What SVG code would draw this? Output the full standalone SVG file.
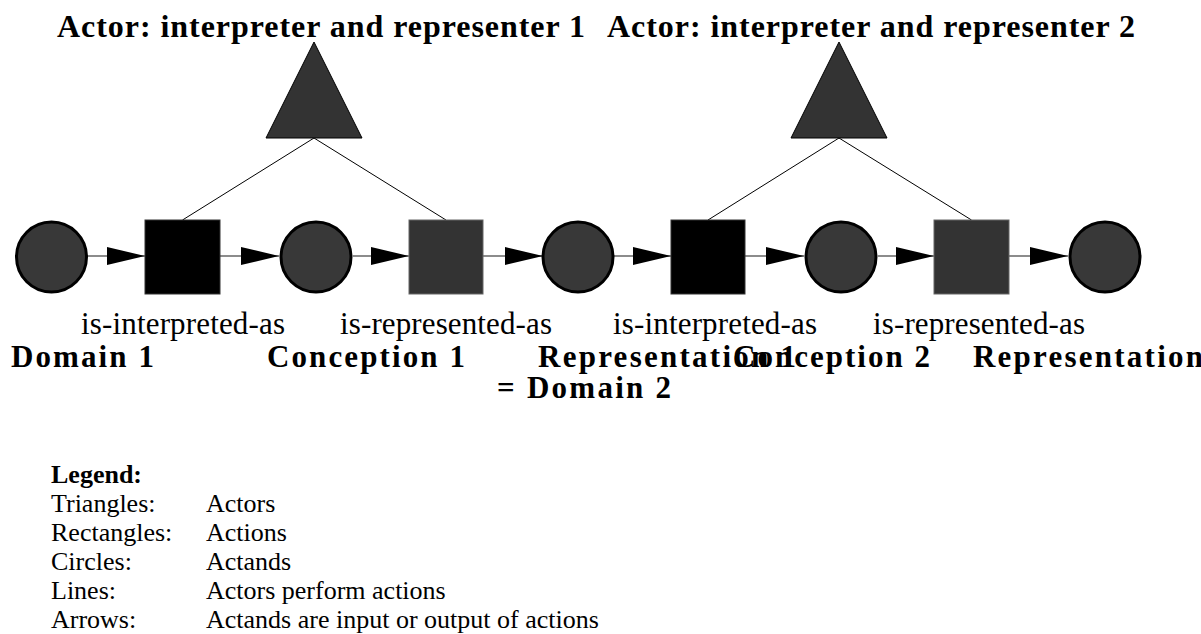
<svg xmlns="http://www.w3.org/2000/svg" width="1201" height="634" viewBox="0 0 1201 634">
<style>
  .title { font-family: "Liberation Serif", "Times New Roman", serif; font-weight: bold; font-size: 32px; fill: #000; }
  .rel { font-family: "Liberation Serif", "Times New Roman", serif; font-size: 31px; fill: #000; }
  .lbl { font-family: "Liberation Serif", "Times New Roman", serif; font-weight: bold; font-size: 31px; fill: #000; }
  .leg { font-family: "Liberation Serif", "Times New Roman", serif; font-size: 26px; fill: #000; }
  .legb { font-family: "Liberation Serif", "Times New Roman", serif; font-size: 26px; font-weight: bold; fill: #000; }
  .actand { fill: #383838; stroke: #000; stroke-width: 3; }
  .actionA { fill: #000; stroke: #333; stroke-width: 1; }
  .actionB { fill: #333; stroke: #666; stroke-width: 1; }
  .actor { fill: #333; stroke: #000; stroke-width: 1; }
  .arrow { stroke: #666; stroke-width: 1.5; fill: none; marker-end: url(#head); }
  .perform { stroke: #000; stroke-width: 1; fill: none; }
</style>
<defs>
  <marker id="head" markerUnits="userSpaceOnUse" markerWidth="38" markerHeight="18" refX="38" refY="9" orient="auto">
    <path d="M0,0 L38,9 L0,18 z" fill="#000"/>
  </marker>
</defs>
<rect x="0" y="0" width="1201" height="634" fill="#fff"/>

<g id="connectors">
  <line class="perform" x1="314" y1="138" x2="182.5" y2="220"/>
  <line class="perform" x1="314" y1="138" x2="446" y2="220"/>
  <line class="perform" x1="839" y1="138" x2="708" y2="220"/>
  <line class="perform" x1="839" y1="138" x2="971.5" y2="220"/>
  <line class="arrow" x1="88" y1="256" x2="145" y2="256"/>
  <line class="arrow" x1="220" y1="256" x2="279" y2="256"/>
  <line class="arrow" x1="353" y1="256" x2="409" y2="256"/>
  <line class="arrow" x1="483" y1="256" x2="543" y2="256"/>
  <line class="arrow" x1="613" y1="256" x2="671" y2="256"/>
  <line class="arrow" x1="745" y1="256" x2="804" y2="256"/>
  <line class="arrow" x1="878" y1="256" x2="934" y2="256"/>
  <line class="arrow" x1="1009" y1="256" x2="1068" y2="256"/>
</g>

<g id="actor1">
  <polygon class="actor" points="314,42 266,138 362,138"/>
  <text class="title" x="57" y="37" textLength="528" lengthAdjust="spacing">Actor: interpreter and representer 1</text>
</g>
<g id="actor2">
  <polygon class="actor" points="839,42 791,138 887,138"/>
  <text class="title" x="607" y="37" textLength="528" lengthAdjust="spacing">Actor: interpreter and representer 2</text>
</g>

<g id="domain1">
  <circle class="actand" cx="51.5" cy="257" r="35"/>
  <text class="lbl" x="11" y="367" textLength="143" lengthAdjust="spacing">Domain 1</text>
</g>
<g id="interpret1">
  <rect class="actionA" x="145" y="220" width="75" height="74"/>
  <text class="rel" x="81" y="334" textLength="204" lengthAdjust="spacing">is-interpreted-as</text>
</g>
<g id="conception1">
  <circle class="actand" cx="316" cy="257" r="35"/>
  <text class="lbl" x="267" y="367" textLength="198" lengthAdjust="spacing">Conception 1</text>
</g>
<g id="represent1">
  <rect class="actionB" x="409" y="220" width="74" height="74"/>
  <text class="rel" x="340" y="334" textLength="212" lengthAdjust="spacing">is-represented-as</text>
</g>
<g id="representation1">
  <circle class="actand" cx="578" cy="257" r="35"/>
  <text class="lbl" x="538" y="367" textLength="258" lengthAdjust="spacing">Representation 1</text>
  <text class="lbl" x="497" y="398" textLength="174" lengthAdjust="spacing">= Domain 2</text>
</g>
<g id="interpret2">
  <rect class="actionA" x="671" y="220" width="74" height="74"/>
  <text class="rel" x="613" y="334" textLength="204" lengthAdjust="spacing">is-interpreted-as</text>
</g>
<g id="conception2">
  <circle class="actand" cx="841" cy="257" r="35"/>
  <text class="lbl" x="733" y="367" textLength="197" lengthAdjust="spacing">Conception 2</text>
</g>
<g id="represent2">
  <rect class="actionB" x="934" y="220" width="75" height="74"/>
  <text class="rel" x="873" y="334" textLength="212" lengthAdjust="spacing">is-represented-as</text>
</g>
<g id="representation2">
  <circle class="actand" cx="1105" cy="257" r="35"/>
  <text class="lbl" x="973" y="367" textLength="230" lengthAdjust="spacing">Representation</text>
</g>

<g id="legend">
  <text class="legb" x="51" y="483">Legend:</text>
  <text class="leg" x="51" y="512">Triangles:</text>
  <text class="leg" x="206" y="512">Actors</text>
  <text class="leg" x="51" y="541">Rectangles:</text>
  <text class="leg" x="206" y="541">Actions</text>
  <text class="leg" x="51" y="570">Circles:</text>
  <text class="leg" x="206" y="570">Actands</text>
  <text class="leg" x="51" y="599">Lines:</text>
  <text class="leg" x="206" y="599">Actors perform actions</text>
  <text class="leg" x="51" y="628">Arrows:</text>
  <text class="leg" x="206" y="628">Actands are input or output of actions</text>
</g>
</svg>
